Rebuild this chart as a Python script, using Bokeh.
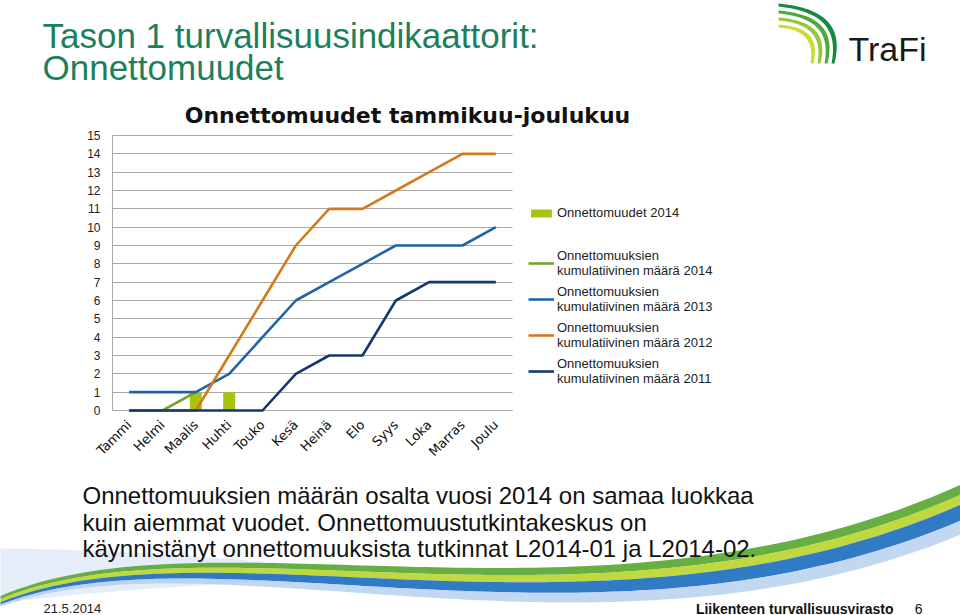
import math
import numpy as np
from bokeh.plotting import figure
from bokeh.models import Range1d, Label, Legend, LegendItem, PolyAnnotation, FixedTicker
from bokeh.embed import file_html
from bokeh.resources import INLINE

# ---------------- data ----------------
months = ["Tammi", "Helmi", "Maalis", "Huhti", "Touko", "Kesä",
          "Heinä", "Elo", "Syys", "Loka", "Marras", "Joulu"]
onnettomuudet_2014 = [0, 0, 1, 1, 0, 0, 0, 0, 0, 0, 0, 0]
kum_2014 = [0, 0, 1, None, None, None, None, None, None, None, None, None]
kum_2013 = [1, 1, 1, 2, 4, 6, 7, 8, 9, 9, 9, 10]
kum_2012 = [0, 0, 0, 3, 6, 9, 11, 11, 12, 13, 14, 14]
kum_2011 = [0, 0, 0, 0, 0, 2, 3, 3, 6, 7, 7, 7]
y_ticks = list(range(0, 16))

slide_title = ["Tason 1 turvallisuusindikaattorit:", "Onnettomuudet"]
chart_title = "Onnettomuudet tammikuu-joulukuu"
body_lines = ["Onnettomuuksien määrän osalta vuosi 2014 on samaa luokkaa",
              "kuin aiemmat vuodet. Onnettomuustutkintakeskus on",
              "käynnistänyt onnettomuuksista tutkinnat L2014-01 ja L2014-02."]
footer_left = "21.5.2014"
footer_right = "Liikenteen turvallisuusvirasto"
page_no = "6"

C_BAR = "#a8c40e"
C_2014 = "#78a22f"
C_2013 = "#1f64a8"
C_2012 = "#d27a1f"
C_2011 = "#14376f"
GRID = "#a8a8a8"

def nz(v):
    return [float("nan") if x is None else x for x in v]

xi = list(range(len(months)))
n = len(months)

# ---------------- layout (canvas pixels) ----------------
W, H = 960, 615
PL, PR, PT, PB = 112, 512, 135, 410          # chart area on the page
ymax = y_ticks[-1]
ux = (PR - PL) / n                            # px per category
uy = (PB - PT) / ymax                         # px per unit
x_lo = -0.5 - PL / ux
x_hi = (n - 0.5) + (W - PR) / ux
y_lo = -(H - PB) / uy
y_hi = ymax + PT / uy

def dx(px):
    return -0.5 + (np.asarray(px, dtype=float) - PL) / ux

def dy(py):
    return (PB - np.asarray(py, dtype=float)) / uy

p = figure(width=W, height=H, x_range=Range1d(x_lo, x_hi), y_range=Range1d(y_lo, y_hi),
           output_backend="svg", toolbar_location=None, min_border=0)
p.outline_line_color = None
p.background_fill_color = "white"
p.border_fill_color = "white"
p.xgrid.visible = False
p.ygrid.visible = False

# y axis: fixed inside the page, ticks stretched into gridlines
ya = p.yaxis[0]
ya.level = "underlay"
ya.fixed_location = -0.5
ya.bounds = (0, ymax)
ya.ticker = FixedTicker(ticks=y_ticks)
ya.major_tick_in = int(PR - PL)
ya.major_tick_out = 0
ya.major_tick_line_color = GRID
ya.major_tick_line_width = 1.2
ya.minor_tick_line_color = None
ya.axis_line_color = GRID
ya.major_label_text_font = "Liberation Sans"
ya.major_label_text_font_size = "12px"
ya.major_label_text_color = "#222222"
ya.major_label_standoff = 12

xa = p.xaxis[0]
xa.level = "underlay"
xa.fixed_location = 0
xa.bounds = (-0.5, n - 0.5)
xa.ticker = FixedTicker(ticks=xi)
xa.major_label_overrides = {i: m for i, m in enumerate(months)}
xa.major_tick_line_color = None
xa.minor_tick_line_color = None
xa.axis_line_color = GRID
xa.axis_line_width = 1.2
xa.major_label_orientation = math.pi / 4
xa.major_label_text_font = "DejaVu Sans"
xa.major_label_text_font_size = "13px"
xa.major_label_text_color = "#111111"
xa.major_label_standoff = 6

p.extra_x_ranges = {"px": Range1d(0, W)}
p.extra_y_ranges = {"py": Range1d(H, 0)}

# ---------------- decoration (page-pixel coordinates) ----------------
def bez(p0, p1, p2, p3, t):
    return ((1 - t) ** 3)[:, None] * np.array(p0) + (3 * (1 - t) ** 2 * t)[:, None] * np.array(p1) \
        + (3 * (1 - t) * t ** 2)[:, None] * np.array(p2) + (t ** 3)[:, None] * np.array(p3)

def poly(xs, ys, col, alpha=1.0):
    p.add_layout(PolyAnnotation(xs=[float(v) for v in dx(xs)], ys=[float(v) for v in dy(ys)],
                                fill_color=col, fill_alpha=alpha,
                                line_color=None, level="underlay"))

def strip(curve, top, bot, col, alpha=1.0):
    poly(np.concatenate([curve[:, 0], curve[::-1, 0]]),
         np.concatenate([curve[:, 1] + top, (curve[:, 1] + bot)[::-1]]), col, alpha)

t = np.linspace(0, 1, 100)
# pale wash at the lower left
wa = bez((-10, 548), (120, 548), (260, 560), (380, 572), t)
strip(wa, np.zeros_like(t), 52 * (1 - t) + 4, "#c6daef", 0.45)
# coloured ribbon
cv = bez((-10, 600), (200, 500), (600, 650), (965, 482), t)
g = 3 + 7 * t
strip(cv, np.zeros_like(t), g, "#5aa833", 0.92)
strip(cv, g, 2 * g, "#bcd630", 0.92)
strip(cv, 2 * g, 2 * g + 2 + 14 * t, "#1f6fbf", 0.92)
strip(cv, 2 * g + 2 + 14 * t, 2 * g + 4 + 26 * t, "#a8c8ea", 0.7)

logo_cols = ["#148a3e", "#4ea83a", "#92c73e", "#cbdc3a"]
tt = np.linspace(0, 1, 40)
for i, col in enumerate(logo_cols):
    a = bez((778, 3 + 7 * i), (830 - 6 * i, 8 + 6 * i), (842 - 8 * i, 30 + 4 * i), (834 - 7 * i, 63), tt)
    b = bez((778, 6 + 7 * i), (826 - 6 * i, 11 + 6 * i), (837 - 8 * i, 32 + 4 * i), (831 - 7 * i, 63), tt)
    poly(np.concatenate([a[:, 0], b[::-1, 0]]), np.concatenate([a[:, 1], b[::-1, 1]]), col)

# ---------------- chart marks ----------------
bar = p.vbar(x=xi, top=onnettomuudet_2014, width=0.36, fill_color=C_BAR, line_color=None)
l14 = p.line(xi, nz(kum_2014), line_color=C_2014, line_width=2.6)
l13 = p.line(xi, kum_2013, line_color=C_2013, line_width=2.6)
l12 = p.line(xi, kum_2012, line_color=C_2012, line_width=2.6)
l11 = p.line(xi, kum_2011, line_color=C_2011, line_width=2.6)

common = dict(background_fill_alpha=0, border_line_color=None,
              label_text_font="Liberation Sans", label_text_font_size="13px",
              label_text_color="#222222", glyph_width=26, label_standoff=3,
              padding=0, margin=0, label_text_line_height=1.2)
leg1 = Legend(items=[LegendItem(label="Onnettomuudet 2014", renderers=[bar])],
              location=(528, H - 220), glyph_height=10, label_height=10, **common)
leg2 = Legend(items=[
    LegendItem(label="Onnettomuuksien\nkumulatiivinen määrä 2014", renderers=[l14]),
    LegendItem(label="Onnettomuuksien\nkumulatiivinen määrä 2013", renderers=[l13]),
    LegendItem(label="Onnettomuuksien\nkumulatiivinen määrä 2012", renderers=[l12]),
    LegendItem(label="Onnettomuuksien\nkumulatiivinen määrä 2011", renderers=[l11]),
], location=(528, H - 386), spacing=6, **common)
p.add_layout(leg1)
p.add_layout(leg2)

# ---------------- texts ----------------
def lab(x, y, text, size, color, bold=False, font="Liberation Sans", align="left"):
    p.add_layout(Label(x=x, y=y, x_range_name="px", y_range_name="py", text=text,
                       text_font=font, text_font_size=f"{size}px", text_color=color,
                       text_font_style="bold" if bold else "normal",
                       text_align=align, text_baseline="alphabetic"))

lab(42, 35, slide_title[0], 35, "#1d7f5e")
lab(42, 67, slide_title[1], 35, "#1d7f5e")
lab(407, 115, chart_title, 22, "#111111", bold=True, font="DejaVu Sans", align="center")
for i, line in enumerate(body_lines):
    lab(82, 495 + i * 26.5, line, 24, "#111111")
lab(43, 608, footer_left, 13, "#222222")
lab(893, 608, footer_right, 14, "#111111", bold=True, align="right")
lab(922, 608, page_no, 14, "#111111", align="right")
lab(848, 48, "TraFi", 34, "#1a1a1a")

open("out.html", "w").write(file_html(p, INLINE))
